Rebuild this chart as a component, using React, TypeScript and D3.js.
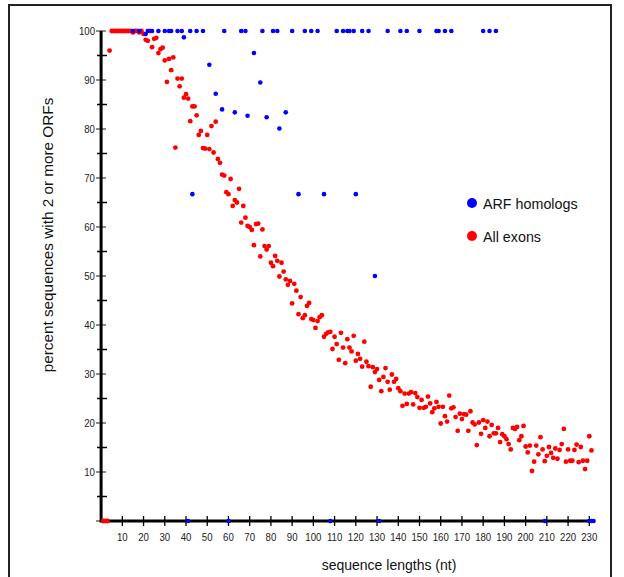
import { useEffect, useRef } from 'react';
import * as d3 from 'd3';

// [length (nt), percent]
const exonPoints: [number, number][] = [
  [1, 0], [2, 0], [3, 0], [4, 96.0],
  [5, 100], [6, 100], [7, 100], [8, 100], [9, 100], [10, 100], [11, 100], [12, 100], [13, 100], [14, 100],
  [15, 99.7], [16, 100], [17, 100], [18, 99.7], [19, 100], [20, 99.4], [21, 98.2], [22, 98.0], [23, 100],
  [24, 96.7], [25, 98.4], [26, 98.6], [27, 95.5], [28, 96.3], [29, 96.6], [30, 94.0], [31, 89.6], [32, 94.3],
  [33, 92.0], [34, 94.6], [35, 76.2], [36, 90.3], [37, 88.7], [38, 90.3], [39, 86.4], [40, 87.1], [41, 86.2],
  [42, 81.6], [43, 84.6], [44, 84.6], [45, 82.8], [46, 78.8], [47, 79.6], [48, 76.1], [49, 76.0], [50, 78.8],
  [51, 75.9], [52, 80.6], [53, 75.2], [54, 81.5], [55, 73.9], [56, 73.1], [57, 70.7], [58, 70.5], [59, 67.1],
  [60, 66.7], [61, 69.8], [62, 64.3], [63, 65.5], [64, 65.0], [65, 67.8], [66, 60.9], [67, 64.3], [68, 61.9],
  [69, 60.2], [70, 60.0], [71, 59.4], [72, 56.3], [73, 60.6], [74, 60.7], [75, 54.0], [76, 59.5], [77, 56.1],
  [78, 55.4], [79, 56.1], [80, 52.7], [81, 52.0], [82, 54.1], [83, 53.1], [84, 49.9], [85, 52.7], [86, 50.9],
  [87, 49.3], [88, 48.2], [89, 49.0], [90, 44.4], [91, 48.4], [92, 47.0], [93, 42.2], [94, 45.7], [95, 41.4],
  [96, 42.0], [97, 43.9], [98, 44.5], [99, 41.2], [100, 41.0], [101, 39.4], [102, 40.8], [103, 41.6], [104, 42.0],
  [105, 37.6], [106, 38.2], [107, 38.5], [108, 38.6], [109, 35.1], [110, 37.6], [111, 36.1], [112, 32.9],
  [113, 38.4], [114, 35.4], [115, 32.2], [116, 37.1], [117, 35.4], [118, 34.6], [119, 37.8], [120, 32.7],
  [121, 34.1], [122, 33.1], [123, 31.5], [124, 36.6], [125, 32.5], [126, 31.6], [127, 27.4], [128, 31.4],
  [129, 30.4], [130, 31.0], [131, 28.8], [132, 26.5], [133, 29.4], [134, 31.2], [135, 28.4], [136, 26.8],
  [137, 29.9], [138, 28.4], [139, 29.0], [140, 27.1], [141, 26.5], [142, 23.5], [143, 26.0], [144, 23.9],
  [145, 26.0], [146, 26.3], [147, 23.8], [148, 26.1], [149, 25.3], [150, 23.1], [151, 24.7], [152, 23.1],
  [153, 23.3], [154, 25.4], [155, 24.0], [156, 22.2], [157, 23.0], [158, 24.3], [159, 23.3], [160, 19.9],
  [161, 23.3], [162, 21.4], [163, 20.3], [164, 25.6], [165, 23.0], [166, 23.2], [167, 21.2], [168, 18.4],
  [169, 21.9], [170, 20.8], [171, 21.8], [172, 21.7], [173, 18.4], [174, 22.4], [175, 20.1], [176, 19.7],
  [177, 15.5], [178, 20.1], [179, 17.8], [180, 20.6], [181, 19.0], [182, 20.3], [183, 17.3], [184, 19.6],
  [185, 17.9], [186, 17.9], [187, 19.0], [188, 16.1], [189, 17.7], [190, 17.3], [191, 16.7], [192, 15.7],
  [193, 14.6], [194, 19.0], [195, 18.8], [196, 19.2], [197, 16.5], [198, 17.3], [199, 19.4], [200, 15.2],
  [201, 14.0], [202, 15.4], [203, 10.2], [204, 12.1], [205, 15.4], [206, 13.6], [207, 17.1], [208, 14.6],
  [209, 12.2], [210, 13.3], [211, 15.1], [212, 13.9], [213, 12.9], [214, 14.8], [215, 12.7], [216, 14.5],
  [217, 15.7], [218, 18.8], [219, 12.1], [220, 14.6], [221, 12.3], [222, 12.3], [223, 14.5], [224, 15.6],
  [225, 12.0], [226, 15.1], [227, 12.3], [228, 10.6], [229, 12.3], [230, 17.3], [231, 14.4],
];

const arfPoints: [number, number][] = [
  [15, 100], [18, 100], [21, 99.4], [22, 100], [24, 100], [27, 100], [30, 100], [32, 100], [33, 100],
  [36, 100], [38, 100], [39, 98.7], [41, 0], [42, 100], [43, 66.7], [45, 100], [48, 100], [51, 93.1],
  [54, 87.2], [57, 84.0], [58, 100], [60, 0], [63, 83.4], [66, 100], [68, 100], [69, 82.7], [72, 95.5],
  [75, 89.5], [76, 100], [78, 82.4], [81, 100], [83, 100], [84, 80.1], [87, 83.4], [90, 100], [93, 66.7],
  [96, 100], [99, 100], [102, 100], [105, 66.7], [108, 0], [111, 100], [114, 100], [116, 100], [117, 100],
  [119, 100], [120, 66.7], [123, 100], [126, 100], [129, 50.0], [131, 0], [135, 100], [141, 100], [144, 100],
  [150, 100], [158, 100], [159, 100], [162, 100], [165, 100], [180, 100], [183, 100], [186, 100],
  [209, 0], [230, 0], [231, 0], [232, 0],
];

const xTicks = d3.range(10, 231, 10);
const yMajor = d3.range(10, 101, 10);
const yMinor = d3.range(5, 100, 10);

const legendItems = [
  { label: 'ARF homologs', color: '#0000ff' },
  { label: 'All exons', color: '#ff0000' },
];

const W = 624;
const H = 577;
const FONT = '"Liberation Sans", Arial, sans-serif';

export default function App() {
  const ref = useRef<SVGSVGElement>(null);

  useEffect(() => {
    const svg = d3.select(ref.current);
    svg.selectAll('*').remove();

    const x = d3.scaleLinear().domain([0, 230]).range([101.1, 589.3]);
    const y = d3.scaleLinear().domain([0, 100]).range([521, 31]);

    // outer frame
    svg.append('rect')
      .attr('x', 9).attr('y', 5).attr('width', 602).attr('height', 600)
      .attr('fill', 'none').attr('stroke', '#222').attr('stroke-width', 2);

    // y ticks: minor black, major grey
    svg.selectAll('.ymin').data(yMinor).join('line')
      .attr('x1', 97).attr('x2', 107)
      .attr('y1', (d) => y(d)).attr('y2', (d) => y(d))
      .attr('stroke', '#000').attr('stroke-width', 1.5);
    svg.selectAll('.ymaj').data([0, ...yMajor]).join('line')
      .attr('x1', 96).attr('x2', 106)
      .attr('y1', (d) => y(d)).attr('y2', (d) => y(d))
      .attr('stroke', '#666').attr('stroke-width', 1.5);
    svg.selectAll('.ylab').data(yMajor).join('text')
      .attr('transform', (d) => `translate(95,${y(d) + 4}) scale(0.84,1)`)
      .attr('text-anchor', 'end')
      .attr('font-family', FONT).attr('font-size', 11.5)
      .attr('fill', '#222')
      .text((d) => d);

    // x ticks
    svg.selectAll('.xt').data(xTicks).join('line')
      .attr('x1', (d) => x(d)).attr('x2', (d) => x(d))
      .attr('y1', 516).attr('y2', 526)
      .attr('stroke', '#000').attr('stroke-width', 1.3);
    svg.selectAll('.xlab').data(xTicks).join('text')
      .attr('transform', (d) => `translate(${x(d)},541) scale(0.84,1)`)
      .attr('text-anchor', 'middle')
      .attr('font-family', FONT).attr('font-size', 11.5)
      .attr('fill', '#222')
      .text((d) => d);

    // axis lines
    svg.append('line')
      .attr('x1', x(0)).attr('x2', x(0)).attr('y1', y(100)).attr('y2', y(0) + 1.5)
      .attr('stroke', '#000').attr('stroke-width', 3);
    svg.append('line')
      .attr('x1', x(0)).attr('x2', x(232.5)).attr('y1', y(0)).attr('y2', y(0))
      .attr('stroke', '#000').attr('stroke-width', 3);

    // points
    svg.selectAll('.exon').data(exonPoints).join('circle')
      .attr('cx', (d) => x(d[0])).attr('cy', (d) => y(d[1]))
      .attr('r', 2.4).attr('fill', '#ff0000');
    svg.selectAll('.arf').data(arfPoints).join('circle')
      .attr('cx', (d) => x(d[0])).attr('cy', (d) => y(d[1]))
      .attr('r', 2.3).attr('fill', '#0000ff');

    // axis titles
    svg.append('text')
      .attr('x', 389).attr('y', 570)
      .attr('text-anchor', 'middle')
      .attr('font-family', FONT).attr('font-size', 14)
      .attr('fill', '#111')
      .text('sequence lengths (nt)');
    svg.append('text')
      .attr('transform', 'translate(53,235) rotate(-90)')
      .attr('text-anchor', 'middle')
      .attr('font-family', FONT).attr('font-size', 15.3)
      .attr('fill', '#111')
      .text('percent sequences with 2 or more ORFs');

    // legend
    const lg = svg.selectAll('.lg').data(legendItems).join('g')
      .attr('transform', (_d, i) => `translate(472,${203 + i * 33})`);
    lg.append('circle').attr('r', 5).attr('fill', (d) => d.color);
    lg.append('text')
      .attr('x', 11).attr('y', 5.5)
      .attr('font-family', FONT).attr('font-size', 14.3)
      .attr('fill', '#111')
      .text((d) => d.label);
  }, []);

  return (
    <svg
      ref={ref}
      width={W}
      height={H}
      style={{ position: 'absolute', left: 0, top: 0, background: '#fff' }}
    />
  );
}
